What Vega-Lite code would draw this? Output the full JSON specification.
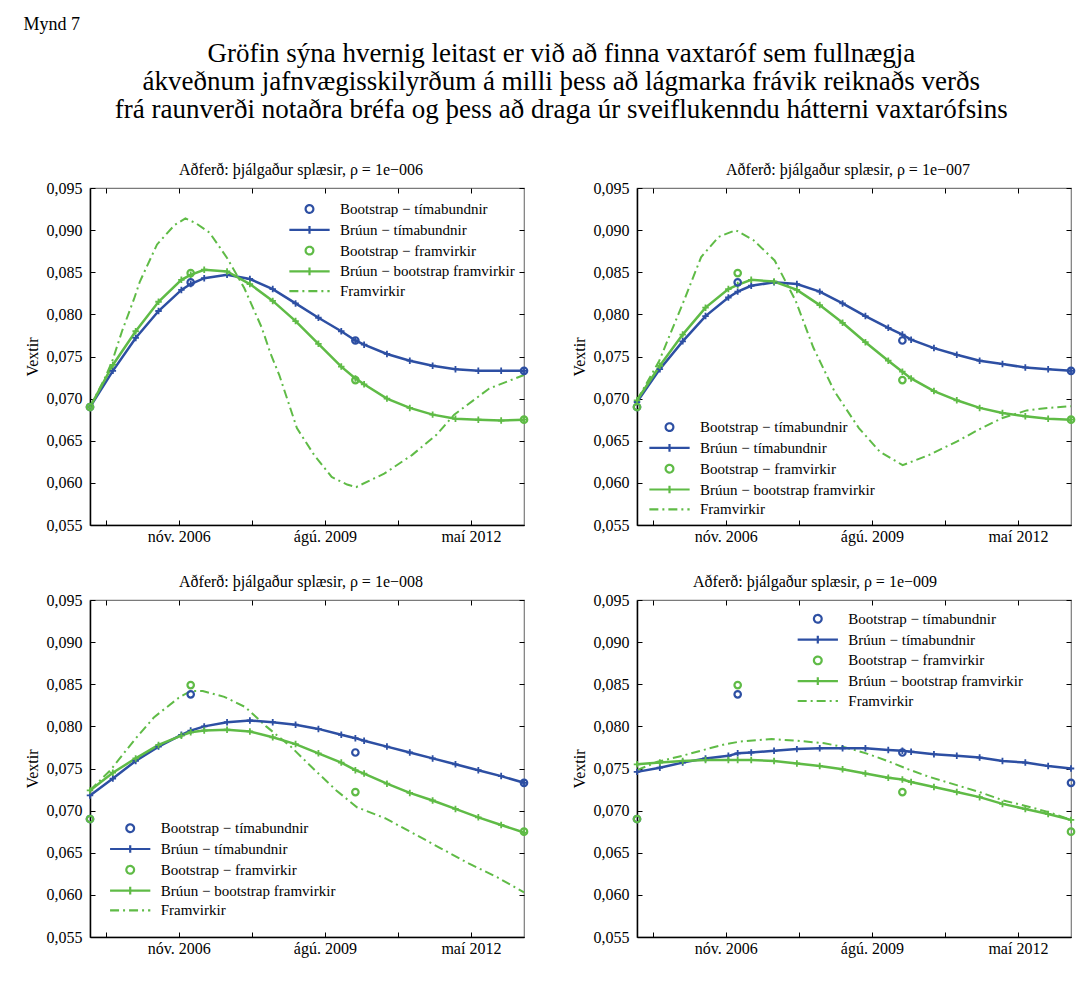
{
"$schema": "https://vega.github.io/schema/vega-lite/v6.json",
"background": "white",
"padding": {"left": 23, "top": 15, "right": 5, "bottom": 5},
"title": {"text": "Mynd 7", "anchor": "start", "fontSize": 18, "offset": 6, "frame": "bounds"},
"data": {"values": [
{"p":0,"s":"Bootstrap − tímabundnir","d":"2005-03-01","v":0.0690},
{"p":0,"s":"Bootstrap − tímabundnir","d":"2007-01-22","v":0.0838},
{"p":0,"s":"Bootstrap − tímabundnir","d":"2010-02-27","v":0.0769},
{"p":0,"s":"Bootstrap − tímabundnir","d":"2013-05-01","v":0.0733},
{"p":0,"s":"Bootstrap − framvirkir","d":"2005-03-01","v":0.0690},
{"p":0,"s":"Bootstrap − framvirkir","d":"2007-01-22","v":0.0849},
{"p":0,"s":"Bootstrap − framvirkir","d":"2010-02-27","v":0.0722},
{"p":0,"s":"Bootstrap − framvirkir","d":"2013-05-01","v":0.0675},
{"p":1,"s":"Brúun − tímabundnir","d":"2005-03-01","v":0.0690},
{"p":1,"s":"Brúun − tímabundnir","d":"2005-08-05","v":0.0733},
{"p":1,"s":"Brúun − tímabundnir","d":"2006-01-09","v":0.0772},
{"p":1,"s":"Brúun − tímabundnir","d":"2006-06-15","v":0.0804},
{"p":1,"s":"Brúun − tímabundnir","d":"2006-11-19","v":0.0829},
{"p":1,"s":"Brúun − tímabundnir","d":"2007-01-22","v":0.0836},
{"p":1,"s":"Brúun − tímabundnir","d":"2007-04-25","v":0.0843},
{"p":1,"s":"Brúun − tímabundnir","d":"2007-09-29","v":0.0847},
{"p":1,"s":"Brúun − tímabundnir","d":"2008-03-04","v":0.0842},
{"p":1,"s":"Brúun − tímabundnir","d":"2008-08-08","v":0.0830},
{"p":1,"s":"Brúun − tímabundnir","d":"2009-01-12","v":0.0813},
{"p":1,"s":"Brúun − tímabundnir","d":"2009-06-18","v":0.0796},
{"p":1,"s":"Brúun − tímabundnir","d":"2009-11-22","v":0.0780},
{"p":1,"s":"Brúun − tímabundnir","d":"2010-02-27","v":0.0769},
{"p":1,"s":"Brúun − tímabundnir","d":"2010-04-28","v":0.0764},
{"p":1,"s":"Brúun − tímabundnir","d":"2010-10-02","v":0.0753},
{"p":1,"s":"Brúun − tímabundnir","d":"2011-03-08","v":0.0745},
{"p":1,"s":"Brúun − tímabundnir","d":"2011-08-12","v":0.0739},
{"p":1,"s":"Brúun − tímabundnir","d":"2012-01-16","v":0.0735},
{"p":1,"s":"Brúun − tímabundnir","d":"2012-06-21","v":0.0733},
{"p":1,"s":"Brúun − tímabundnir","d":"2012-11-25","v":0.0733},
{"p":1,"s":"Brúun − tímabundnir","d":"2013-05-01","v":0.0733},
{"p":1,"s":"Brúun − bootstrap framvirkir","d":"2005-03-01","v":0.0690},
{"p":1,"s":"Brúun − bootstrap framvirkir","d":"2005-08-05","v":0.0740},
{"p":1,"s":"Brúun − bootstrap framvirkir","d":"2006-01-09","v":0.0780},
{"p":1,"s":"Brúun − bootstrap framvirkir","d":"2006-06-15","v":0.0815},
{"p":1,"s":"Brúun − bootstrap framvirkir","d":"2006-11-19","v":0.0841},
{"p":1,"s":"Brúun − bootstrap framvirkir","d":"2007-01-22","v":0.0847},
{"p":1,"s":"Brúun − bootstrap framvirkir","d":"2007-04-25","v":0.0853},
{"p":1,"s":"Brúun − bootstrap framvirkir","d":"2007-09-29","v":0.0851},
{"p":1,"s":"Brúun − bootstrap framvirkir","d":"2008-03-04","v":0.0836},
{"p":1,"s":"Brúun − bootstrap framvirkir","d":"2008-08-08","v":0.0816},
{"p":1,"s":"Brúun − bootstrap framvirkir","d":"2009-01-12","v":0.0792},
{"p":1,"s":"Brúun − bootstrap framvirkir","d":"2009-06-18","v":0.0765},
{"p":1,"s":"Brúun − bootstrap framvirkir","d":"2009-11-22","v":0.0738},
{"p":1,"s":"Brúun − bootstrap framvirkir","d":"2010-02-27","v":0.0724},
{"p":1,"s":"Brúun − bootstrap framvirkir","d":"2010-04-28","v":0.0717},
{"p":1,"s":"Brúun − bootstrap framvirkir","d":"2010-10-02","v":0.0700},
{"p":1,"s":"Brúun − bootstrap framvirkir","d":"2011-03-08","v":0.0689},
{"p":1,"s":"Brúun − bootstrap framvirkir","d":"2011-08-12","v":0.0681},
{"p":1,"s":"Brúun − bootstrap framvirkir","d":"2012-01-16","v":0.0676},
{"p":1,"s":"Brúun − bootstrap framvirkir","d":"2012-06-21","v":0.0675},
{"p":1,"s":"Brúun − bootstrap framvirkir","d":"2012-11-25","v":0.0674},
{"p":1,"s":"Brúun − bootstrap framvirkir","d":"2013-05-01","v":0.0675},
{"p":1,"s":"Framvirkir","d":"2005-03-01","v":0.0690},
{"p":1,"s":"Framvirkir","d":"2005-06-10","v":0.0724},
{"p":1,"s":"Framvirkir","d":"2005-08-02","v":0.0745},
{"p":1,"s":"Framvirkir","d":"2005-10-07","v":0.0780},
{"p":1,"s":"Framvirkir","d":"2005-12-28","v":0.0818},
{"p":1,"s":"Framvirkir","d":"2006-02-07","v":0.0839},
{"p":1,"s":"Framvirkir","d":"2006-06-05","v":0.0883},
{"p":1,"s":"Framvirkir","d":"2006-10-03","v":0.0906},
{"p":1,"s":"Framvirkir","d":"2006-12-17","v":0.0914},
{"p":1,"s":"Framvirkir","d":"2007-03-01","v":0.0908},
{"p":1,"s":"Framvirkir","d":"2007-06-01","v":0.0897},
{"p":1,"s":"Framvirkir","d":"2007-09-29","v":0.0867},
{"p":1,"s":"Framvirkir","d":"2008-01-26","v":0.0831},
{"p":1,"s":"Framvirkir","d":"2008-05-25","v":0.0784},
{"p":1,"s":"Framvirkir","d":"2008-07-25","v":0.0753},
{"p":1,"s":"Framvirkir","d":"2008-09-22","v":0.0728},
{"p":1,"s":"Framvirkir","d":"2009-01-21","v":0.0665},
{"p":1,"s":"Framvirkir","d":"2009-05-20","v":0.0633},
{"p":1,"s":"Framvirkir","d":"2009-09-17","v":0.0607},
{"p":1,"s":"Framvirkir","d":"2010-01-01","v":0.0598},
{"p":1,"s":"Framvirkir","d":"2010-03-04","v":0.0595},
{"p":1,"s":"Framvirkir","d":"2010-09-13","v":0.0611},
{"p":1,"s":"Framvirkir","d":"2011-03-23","v":0.0633},
{"p":1,"s":"Framvirkir","d":"2011-09-07","v":0.0657},
{"p":1,"s":"Framvirkir","d":"2012-01-07","v":0.0681},
{"p":1,"s":"Framvirkir","d":"2012-09-04","v":0.0712},
{"p":1,"s":"Framvirkir","d":"2013-05-01","v":0.0728},
{"p":2,"s":"Brúun − tímabundnir","d":"2005-03-01","v":0.0696},
{"p":2,"s":"Brúun − tímabundnir","d":"2005-08-05","v":0.0735},
{"p":2,"s":"Brúun − tímabundnir","d":"2006-01-09","v":0.0768},
{"p":2,"s":"Brúun − tímabundnir","d":"2006-06-15","v":0.0798},
{"p":2,"s":"Brúun − tímabundnir","d":"2006-11-19","v":0.0820},
{"p":2,"s":"Brúun − tímabundnir","d":"2007-01-22","v":0.0827},
{"p":2,"s":"Brúun − tímabundnir","d":"2007-04-25","v":0.0834},
{"p":2,"s":"Brúun − tímabundnir","d":"2007-09-29","v":0.0838},
{"p":2,"s":"Brúun − tímabundnir","d":"2008-03-04","v":0.0836},
{"p":2,"s":"Brúun − tímabundnir","d":"2008-08-08","v":0.0827},
{"p":2,"s":"Brúun − tímabundnir","d":"2009-01-12","v":0.0813},
{"p":2,"s":"Brúun − tímabundnir","d":"2009-06-18","v":0.0798},
{"p":2,"s":"Brúun − tímabundnir","d":"2009-11-22","v":0.0784},
{"p":2,"s":"Brúun − tímabundnir","d":"2010-02-27","v":0.0776},
{"p":2,"s":"Brúun − tímabundnir","d":"2010-04-28","v":0.0770},
{"p":2,"s":"Brúun − tímabundnir","d":"2010-10-02","v":0.0760},
{"p":2,"s":"Brúun − tímabundnir","d":"2011-03-08","v":0.0752},
{"p":2,"s":"Brúun − tímabundnir","d":"2011-08-12","v":0.0745},
{"p":2,"s":"Brúun − tímabundnir","d":"2012-01-16","v":0.0741},
{"p":2,"s":"Brúun − tímabundnir","d":"2012-06-21","v":0.0737},
{"p":2,"s":"Brúun − tímabundnir","d":"2012-11-25","v":0.0735},
{"p":2,"s":"Brúun − tímabundnir","d":"2013-05-01","v":0.0733},
{"p":2,"s":"Brúun − bootstrap framvirkir","d":"2005-03-01","v":0.0698},
{"p":2,"s":"Brúun − bootstrap framvirkir","d":"2005-08-05","v":0.0739},
{"p":2,"s":"Brúun − bootstrap framvirkir","d":"2006-01-09","v":0.0776},
{"p":2,"s":"Brúun − bootstrap framvirkir","d":"2006-06-15","v":0.0808},
{"p":2,"s":"Brúun − bootstrap framvirkir","d":"2006-11-19","v":0.0830},
{"p":2,"s":"Brúun − bootstrap framvirkir","d":"2007-01-22","v":0.0835},
{"p":2,"s":"Brúun − bootstrap framvirkir","d":"2007-04-25","v":0.0841},
{"p":2,"s":"Brúun − bootstrap framvirkir","d":"2007-09-29","v":0.0839},
{"p":2,"s":"Brúun − bootstrap framvirkir","d":"2008-03-04","v":0.0829},
{"p":2,"s":"Brúun − bootstrap framvirkir","d":"2008-08-08","v":0.0811},
{"p":2,"s":"Brúun − bootstrap framvirkir","d":"2009-01-12","v":0.0790},
{"p":2,"s":"Brúun − bootstrap framvirkir","d":"2009-06-18","v":0.0767},
{"p":2,"s":"Brúun − bootstrap framvirkir","d":"2009-11-22","v":0.0745},
{"p":2,"s":"Brúun − bootstrap framvirkir","d":"2010-02-27","v":0.0732},
{"p":2,"s":"Brúun − bootstrap framvirkir","d":"2010-04-28","v":0.0724},
{"p":2,"s":"Brúun − bootstrap framvirkir","d":"2010-10-02","v":0.0709},
{"p":2,"s":"Brúun − bootstrap framvirkir","d":"2011-03-08","v":0.0698},
{"p":2,"s":"Brúun − bootstrap framvirkir","d":"2011-08-12","v":0.0689},
{"p":2,"s":"Brúun − bootstrap framvirkir","d":"2012-01-16","v":0.0683},
{"p":2,"s":"Brúun − bootstrap framvirkir","d":"2012-06-21","v":0.0679},
{"p":2,"s":"Brúun − bootstrap framvirkir","d":"2012-11-25","v":0.0676},
{"p":2,"s":"Brúun − bootstrap framvirkir","d":"2013-05-01","v":0.0675},
{"p":2,"s":"Framvirkir","d":"2005-03-01","v":0.0698},
{"p":2,"s":"Framvirkir","d":"2005-08-01","v":0.0745},
{"p":2,"s":"Framvirkir","d":"2006-01-17","v":0.0816},
{"p":2,"s":"Framvirkir","d":"2006-05-16","v":0.0868},
{"p":2,"s":"Framvirkir","d":"2006-09-13","v":0.0892},
{"p":2,"s":"Framvirkir","d":"2007-01-08","v":0.0900},
{"p":2,"s":"Framvirkir","d":"2007-05-11","v":0.0888},
{"p":2,"s":"Framvirkir","d":"2007-10-03","v":0.0864},
{"p":2,"s":"Framvirkir","d":"2008-02-25","v":0.0816},
{"p":2,"s":"Framvirkir","d":"2008-06-24","v":0.0761},
{"p":2,"s":"Framvirkir","d":"2008-11-16","v":0.0709},
{"p":2,"s":"Framvirkir","d":"2009-05-04","v":0.0665},
{"p":2,"s":"Framvirkir","d":"2009-09-25","v":0.0637},
{"p":2,"s":"Framvirkir","d":"2010-01-01","v":0.0627},
{"p":2,"s":"Framvirkir","d":"2010-03-01","v":0.0621},
{"p":2,"s":"Framvirkir","d":"2010-08-28","v":0.0633},
{"p":2,"s":"Framvirkir","d":"2011-03-07","v":0.0649},
{"p":2,"s":"Framvirkir","d":"2011-08-25","v":0.0665},
{"p":2,"s":"Framvirkir","d":"2012-01-16","v":0.0677},
{"p":2,"s":"Framvirkir","d":"2012-07-01","v":0.0686},
{"p":2,"s":"Framvirkir","d":"2012-11-25","v":0.0689},
{"p":2,"s":"Framvirkir","d":"2013-05-01","v":0.0691},
{"p":3,"s":"Brúun − tímabundnir","d":"2005-03-01","v":0.0718},
{"p":3,"s":"Brúun − tímabundnir","d":"2005-08-05","v":0.0738},
{"p":3,"s":"Brúun − tímabundnir","d":"2006-01-09","v":0.0759},
{"p":3,"s":"Brúun − tímabundnir","d":"2006-06-15","v":0.0776},
{"p":3,"s":"Brúun − tímabundnir","d":"2006-11-19","v":0.0790},
{"p":3,"s":"Brúun − tímabundnir","d":"2007-01-22","v":0.0795},
{"p":3,"s":"Brúun − tímabundnir","d":"2007-04-25","v":0.0800},
{"p":3,"s":"Brúun − tímabundnir","d":"2007-09-29","v":0.0805},
{"p":3,"s":"Brúun − tímabundnir","d":"2008-03-04","v":0.0807},
{"p":3,"s":"Brúun − tímabundnir","d":"2008-08-08","v":0.0805},
{"p":3,"s":"Brúun − tímabundnir","d":"2009-01-12","v":0.0802},
{"p":3,"s":"Brúun − tímabundnir","d":"2009-06-18","v":0.0797},
{"p":3,"s":"Brúun − tímabundnir","d":"2009-11-22","v":0.0790},
{"p":3,"s":"Brúun − tímabundnir","d":"2010-02-27","v":0.0786},
{"p":3,"s":"Brúun − tímabundnir","d":"2010-04-28","v":0.0783},
{"p":3,"s":"Brúun − tímabundnir","d":"2010-10-02","v":0.0776},
{"p":3,"s":"Brúun − tímabundnir","d":"2011-03-08","v":0.0769},
{"p":3,"s":"Brúun − tímabundnir","d":"2011-08-12","v":0.0762},
{"p":3,"s":"Brúun − tímabundnir","d":"2012-01-16","v":0.0755},
{"p":3,"s":"Brúun − tímabundnir","d":"2012-06-21","v":0.0748},
{"p":3,"s":"Brúun − tímabundnir","d":"2012-11-25","v":0.0741},
{"p":3,"s":"Brúun − tímabundnir","d":"2013-05-01","v":0.0733},
{"p":3,"s":"Brúun − bootstrap framvirkir","d":"2005-03-01","v":0.0724},
{"p":3,"s":"Brúun − bootstrap framvirkir","d":"2005-08-05","v":0.0745},
{"p":3,"s":"Brúun − bootstrap framvirkir","d":"2006-01-09","v":0.0762},
{"p":3,"s":"Brúun − bootstrap framvirkir","d":"2006-06-15","v":0.0778},
{"p":3,"s":"Brúun − bootstrap framvirkir","d":"2006-11-19","v":0.0789},
{"p":3,"s":"Brúun − bootstrap framvirkir","d":"2007-01-22","v":0.0793},
{"p":3,"s":"Brúun − bootstrap framvirkir","d":"2007-04-25","v":0.0795},
{"p":3,"s":"Brúun − bootstrap framvirkir","d":"2007-09-29","v":0.0796},
{"p":3,"s":"Brúun − bootstrap framvirkir","d":"2008-03-04","v":0.0794},
{"p":3,"s":"Brúun − bootstrap framvirkir","d":"2008-08-08","v":0.0787},
{"p":3,"s":"Brúun − bootstrap framvirkir","d":"2009-01-12","v":0.0779},
{"p":3,"s":"Brúun − bootstrap framvirkir","d":"2009-06-18","v":0.0768},
{"p":3,"s":"Brúun − bootstrap framvirkir","d":"2009-11-22","v":0.0757},
{"p":3,"s":"Brúun − bootstrap framvirkir","d":"2010-02-27","v":0.0748},
{"p":3,"s":"Brúun − bootstrap framvirkir","d":"2010-04-28","v":0.0744},
{"p":3,"s":"Brúun − bootstrap framvirkir","d":"2010-10-02","v":0.0732},
{"p":3,"s":"Brúun − bootstrap framvirkir","d":"2011-03-08","v":0.0721},
{"p":3,"s":"Brúun − bootstrap framvirkir","d":"2011-08-12","v":0.0712},
{"p":3,"s":"Brúun − bootstrap framvirkir","d":"2012-01-16","v":0.0702},
{"p":3,"s":"Brúun − bootstrap framvirkir","d":"2012-06-21","v":0.0692},
{"p":3,"s":"Brúun − bootstrap framvirkir","d":"2012-11-25","v":0.0683},
{"p":3,"s":"Brúun − bootstrap framvirkir","d":"2013-05-01","v":0.0674},
{"p":3,"s":"Framvirkir","d":"2005-03-01","v":0.0724},
{"p":3,"s":"Framvirkir","d":"2005-07-19","v":0.0748},
{"p":3,"s":"Framvirkir","d":"2006-01-01","v":0.0784},
{"p":3,"s":"Framvirkir","d":"2006-05-16","v":0.0811},
{"p":3,"s":"Framvirkir","d":"2006-11-01","v":0.0834},
{"p":3,"s":"Framvirkir","d":"2007-01-22","v":0.0842},
{"p":3,"s":"Framvirkir","d":"2007-04-15","v":0.0842},
{"p":3,"s":"Framvirkir","d":"2007-09-10","v":0.0835},
{"p":3,"s":"Framvirkir","d":"2008-02-01","v":0.0823},
{"p":3,"s":"Framvirkir","d":"2008-06-24","v":0.0800},
{"p":3,"s":"Framvirkir","d":"2008-12-10","v":0.0776},
{"p":3,"s":"Framvirkir","d":"2009-05-25","v":0.0748},
{"p":3,"s":"Framvirkir","d":"2009-10-19","v":0.0724},
{"p":3,"s":"Framvirkir","d":"2010-03-10","v":0.0704},
{"p":3,"s":"Framvirkir","d":"2010-09-19","v":0.0691},
{"p":3,"s":"Framvirkir","d":"2011-04-01","v":0.0673},
{"p":3,"s":"Framvirkir","d":"2011-10-10","v":0.0655},
{"p":3,"s":"Framvirkir","d":"2012-04-19","v":0.0637},
{"p":3,"s":"Framvirkir","d":"2012-10-28","v":0.0621},
{"p":3,"s":"Framvirkir","d":"2013-05-01","v":0.0603},
{"p":4,"s":"Brúun − tímabundnir","d":"2005-03-01","v":0.0746},
{"p":4,"s":"Brúun − tímabundnir","d":"2005-08-05","v":0.0751},
{"p":4,"s":"Brúun − tímabundnir","d":"2006-01-09","v":0.0757},
{"p":4,"s":"Brúun − tímabundnir","d":"2006-06-15","v":0.0762},
{"p":4,"s":"Brúun − tímabundnir","d":"2006-11-19","v":0.0765},
{"p":4,"s":"Brúun − tímabundnir","d":"2007-01-22","v":0.0768},
{"p":4,"s":"Brúun − tímabundnir","d":"2007-04-25","v":0.0769},
{"p":4,"s":"Brúun − tímabundnir","d":"2007-09-29","v":0.0771},
{"p":4,"s":"Brúun − tímabundnir","d":"2008-03-04","v":0.0773},
{"p":4,"s":"Brúun − tímabundnir","d":"2008-08-08","v":0.0774},
{"p":4,"s":"Brúun − tímabundnir","d":"2009-01-12","v":0.0774},
{"p":4,"s":"Brúun − tímabundnir","d":"2009-06-18","v":0.0774},
{"p":4,"s":"Brúun − tímabundnir","d":"2009-11-22","v":0.0772},
{"p":4,"s":"Brúun − tímabundnir","d":"2010-02-27","v":0.0771},
{"p":4,"s":"Brúun − tímabundnir","d":"2010-04-28","v":0.0770},
{"p":4,"s":"Brúun − tímabundnir","d":"2010-10-02","v":0.0767},
{"p":4,"s":"Brúun − tímabundnir","d":"2011-03-08","v":0.0765},
{"p":4,"s":"Brúun − tímabundnir","d":"2011-08-12","v":0.0763},
{"p":4,"s":"Brúun − tímabundnir","d":"2012-01-16","v":0.0759},
{"p":4,"s":"Brúun − tímabundnir","d":"2012-06-21","v":0.0757},
{"p":4,"s":"Brúun − tímabundnir","d":"2012-11-25","v":0.0753},
{"p":4,"s":"Brúun − tímabundnir","d":"2013-05-01","v":0.0750},
{"p":4,"s":"Brúun − bootstrap framvirkir","d":"2005-03-01","v":0.0755},
{"p":4,"s":"Brúun − bootstrap framvirkir","d":"2005-08-05","v":0.0757},
{"p":4,"s":"Brúun − bootstrap framvirkir","d":"2006-01-09","v":0.0759},
{"p":4,"s":"Brúun − bootstrap framvirkir","d":"2006-06-15","v":0.0760},
{"p":4,"s":"Brúun − bootstrap framvirkir","d":"2006-11-19","v":0.0760},
{"p":4,"s":"Brúun − bootstrap framvirkir","d":"2007-01-22","v":0.0760},
{"p":4,"s":"Brúun − bootstrap framvirkir","d":"2007-04-25","v":0.0760},
{"p":4,"s":"Brúun − bootstrap framvirkir","d":"2007-09-29","v":0.0759},
{"p":4,"s":"Brúun − bootstrap framvirkir","d":"2008-03-04","v":0.0756},
{"p":4,"s":"Brúun − bootstrap framvirkir","d":"2008-08-08","v":0.0753},
{"p":4,"s":"Brúun − bootstrap framvirkir","d":"2009-01-12","v":0.0749},
{"p":4,"s":"Brúun − bootstrap framvirkir","d":"2009-06-18","v":0.0744},
{"p":4,"s":"Brúun − bootstrap framvirkir","d":"2009-11-22","v":0.0739},
{"p":4,"s":"Brúun − bootstrap framvirkir","d":"2010-02-27","v":0.0737},
{"p":4,"s":"Brúun − bootstrap framvirkir","d":"2010-04-28","v":0.0734},
{"p":4,"s":"Brúun − bootstrap framvirkir","d":"2010-10-02","v":0.0728},
{"p":4,"s":"Brúun − bootstrap framvirkir","d":"2011-03-08","v":0.0722},
{"p":4,"s":"Brúun − bootstrap framvirkir","d":"2011-08-12","v":0.0716},
{"p":4,"s":"Brúun − bootstrap framvirkir","d":"2012-01-16","v":0.0708},
{"p":4,"s":"Brúun − bootstrap framvirkir","d":"2012-06-21","v":0.0702},
{"p":4,"s":"Brúun − bootstrap framvirkir","d":"2012-11-25","v":0.0696},
{"p":4,"s":"Brúun − bootstrap framvirkir","d":"2013-05-01","v":0.0689},
{"p":4,"s":"Framvirkir","d":"2005-03-01","v":0.0748},
{"p":4,"s":"Framvirkir","d":"2005-07-19","v":0.0758},
{"p":4,"s":"Framvirkir","d":"2006-01-04","v":0.0765},
{"p":4,"s":"Framvirkir","d":"2006-06-01","v":0.0772},
{"p":4,"s":"Framvirkir","d":"2006-11-01","v":0.0779},
{"p":4,"s":"Framvirkir","d":"2007-02-08","v":0.0782},
{"p":4,"s":"Framvirkir","d":"2007-09-13","v":0.0785},
{"p":4,"s":"Framvirkir","d":"2008-02-28","v":0.0783},
{"p":4,"s":"Framvirkir","d":"2008-09-09","v":0.0780},
{"p":4,"s":"Framvirkir","d":"2009-02-01","v":0.0775},
{"p":4,"s":"Framvirkir","d":"2009-06-23","v":0.0768},
{"p":4,"s":"Framvirkir","d":"2009-11-16","v":0.0759},
{"p":4,"s":"Framvirkir","d":"2010-04-10","v":0.0749},
{"p":4,"s":"Framvirkir","d":"2010-09-01","v":0.0740},
{"p":4,"s":"Framvirkir","d":"2011-03-13","v":0.0730},
{"p":4,"s":"Framvirkir","d":"2011-08-29","v":0.0721},
{"p":4,"s":"Framvirkir","d":"2012-01-22","v":0.0712},
{"p":4,"s":"Framvirkir","d":"2012-07-07","v":0.0705},
{"p":4,"s":"Framvirkir","d":"2012-12-01","v":0.0698},
{"p":4,"s":"Framvirkir","d":"2013-05-01","v":0.0689}
]},
"vconcat": [{
"title": {"text": ["Gröfin sýna hvernig leitast er við að finna vaxtaróf sem fullnægja", "ákveðnum jafnvægisskilyrðum á milli þess að lágmarka frávik reiknaðs verðs", "frá raunverði notaðra bréfa og þess að draga úr sveiflukenndu hátterni vaxtarófsins"], "anchor": "middle", "fontSize": 27, "lineHeight": 28, "offset": 37.5, "dx": 10},
"columns": 2,
"spacing": {"row": 28, "column": 37},
"resolve": {"scale": {"color": "independent", "shape": "independent", "strokeDash": "independent"}, "legend": {"color": "independent", "shape": "independent", "strokeDash": "independent"}},
"concat": [
{
"width": 434, "height": 337,
"title": {"text": "Aðferð: þjálgaður splæsir, ρ = 1e−006", "frame": "group", "dx": -6, "fontSize": 16, "offset": 2},
"transform": [{"filter": "datum.p == 0 || datum.p == 1"}],
"resolve": {"axis": {"x": "independent", "y": "independent"}},
"encoding": {
  "x": {"field": "d", "type": "temporal", "scale": {"type": "utc", "nice": false, "domain": [1109635200000, 1367366400000]}, "axis": null},
  "y": {"field": "v", "type": "quantitative", "scale": {"domain": [0.055, 0.095], "nice": false, "zero": false}, "axis": null},
  "color": {"field": "s", "type": "nominal", "scale": {"domain": ["Bootstrap − tímabundnir", "Brúun − tímabundnir", "Bootstrap − framvirkir", "Brúun − bootstrap framvirkir", "Framvirkir"], "range": ["#2D4FA3", "#2D4FA3", "#5FBB46", "#5FBB46", "#5FBB46"]},
   "legend": {"orient": "none", "legendX": 197, "legendY": 13.5, "direction": "vertical", "title": null}}
},
"layer": [
{"transform": [{"filter": "datum.s == 'Framvirkir'"}], "mark": {"type": "line", "strokeWidth": 2},
 "encoding": {"strokeDash": {"field": "s", "type": "nominal", "scale": {"domain": ["Bootstrap − tímabundnir", "Brúun − tímabundnir", "Bootstrap − framvirkir", "Brúun − bootstrap framvirkir", "Framvirkir"], "range": [[1, 0], [1, 0], [1, 0], [1, 0], [9, 4, 2, 4]]}, "legend": {"orient": "none", "legendX": 197, "legendY": 13.5, "direction": "vertical", "title": null}}}},
{"transform": [{"filter": "datum.p != 0 && datum.s != 'Framvirkir'"}], "mark": {"type": "line", "strokeWidth": 2.5},
 "encoding": {
  "x": {"field": "d", "type": "temporal", "scale": {"type": "utc", "nice": false, "domain": [1109635200000, 1367366400000]},
   "axis": {"orient": "bottom", "title": null, "values": [1118966400000, 1162339200000, 1205712000000, 1249084800000, 1292457600000, 1335830400000],
    "labelExpr": "utcmonth(datum.value) == 10 ? 'nóv. ' + utcyear(datum.value) : utcmonth(datum.value) == 7 ? 'ágú. ' + utcyear(datum.value) : utcmonth(datum.value) == 4 ? 'maí ' + utcyear(datum.value) : ''",
    "tickSize": -5, "labelPadding": 8, "labelOverlap": false, "labelFlush": false}},
  "y": {"field": "v", "type": "quantitative", "scale": {"domain": [0.055, 0.095], "nice": false, "zero": false},
   "axis": {"orient": "left", "title": "Vextir", "values": [0.055, 0.06, 0.065, 0.07, 0.075, 0.08, 0.085, 0.09, 0.095], "labelExpr": "replace(format(datum.value, '.3f'), '.', ',')", "tickSize": -5, "labelPadding": 13, "titlePadding": 6, "labelOverlap": false}}}},
{"transform": [{"filter": "datum.p != 0 && datum.s != 'Framvirkir'"}], "mark": {"type": "point", "shape": "M-1,0H1M0,-1V1", "filled": false, "size": 42, "strokeWidth": 1.8, "opacity": 1}},
{"transform": [{"filter": "datum.p == 0"}], "mark": {"type": "point", "filled": false, "size": 42, "strokeWidth": 2.2, "opacity": 1},
 "encoding": {
  "x": {"field": "d", "type": "temporal", "scale": {"type": "utc", "nice": false, "domain": [1109635200000, 1367366400000]},
   "axis": {"orient": "top", "title": null, "labels": false, "domain": false, "tickSize": -5, "minExtent": 0, "values": [1118966400000, 1162339200000, 1205712000000, 1249084800000, 1292457600000, 1335830400000]}},
  "y": {"field": "v", "type": "quantitative", "scale": {"domain": [0.055, 0.095], "nice": false, "zero": false},
   "axis": {"orient": "right", "title": null, "labels": false, "domain": false, "tickSize": -5, "minExtent": 0, "values": [0.055, 0.06, 0.065, 0.07, 0.075, 0.08, 0.085, 0.09, 0.095]}},
  "shape": {"field": "s", "type": "nominal", "scale": {"domain": ["Bootstrap − tímabundnir", "Brúun − tímabundnir", "Bootstrap − framvirkir", "Brúun − bootstrap framvirkir", "Framvirkir"], "range": ["circle", "M-5.2,0H5.2M0,-1V1", "circle", "M-5.2,0H5.2M0,-1V1", "M-5.2,0H5.2"]}, "legend": {"orient": "none", "legendX": 197, "legendY": 13.5, "direction": "vertical", "title": null}}}}
]
},
{
"width": 434, "height": 337,
"title": {"text": "Aðferð: þjálgaður splæsir, ρ = 1e−007", "frame": "group", "dx": -6, "fontSize": 16, "offset": 2},
"transform": [{"filter": "datum.p == 0 || datum.p == 2"}],
"resolve": {"axis": {"x": "independent", "y": "independent"}},
"encoding": {
  "x": {"field": "d", "type": "temporal", "scale": {"type": "utc", "nice": false, "domain": [1109635200000, 1367366400000]}, "axis": null},
  "y": {"field": "v", "type": "quantitative", "scale": {"domain": [0.055, 0.095], "nice": false, "zero": false}, "axis": null},
  "color": {"field": "s", "type": "nominal", "scale": {"domain": ["Bootstrap − tímabundnir", "Brúun − tímabundnir", "Bootstrap − framvirkir", "Brúun − bootstrap framvirkir", "Framvirkir"], "range": ["#2D4FA3", "#2D4FA3", "#5FBB46", "#5FBB46", "#5FBB46"]},
   "legend": {"orient": "none", "legendX": 10, "legendY": 231.6, "direction": "vertical", "title": null}}
},
"layer": [
{"transform": [{"filter": "datum.s == 'Framvirkir'"}], "mark": {"type": "line", "strokeWidth": 2},
 "encoding": {"strokeDash": {"field": "s", "type": "nominal", "scale": {"domain": ["Bootstrap − tímabundnir", "Brúun − tímabundnir", "Bootstrap − framvirkir", "Brúun − bootstrap framvirkir", "Framvirkir"], "range": [[1, 0], [1, 0], [1, 0], [1, 0], [9, 4, 2, 4]]}, "legend": {"orient": "none", "legendX": 10, "legendY": 231.6, "direction": "vertical", "title": null}}}},
{"transform": [{"filter": "datum.p != 0 && datum.s != 'Framvirkir'"}], "mark": {"type": "line", "strokeWidth": 2.5},
 "encoding": {
  "x": {"field": "d", "type": "temporal", "scale": {"type": "utc", "nice": false, "domain": [1109635200000, 1367366400000]},
   "axis": {"orient": "bottom", "title": null, "values": [1118966400000, 1162339200000, 1205712000000, 1249084800000, 1292457600000, 1335830400000],
    "labelExpr": "utcmonth(datum.value) == 10 ? 'nóv. ' + utcyear(datum.value) : utcmonth(datum.value) == 7 ? 'ágú. ' + utcyear(datum.value) : utcmonth(datum.value) == 4 ? 'maí ' + utcyear(datum.value) : ''",
    "tickSize": -5, "labelPadding": 8, "labelOverlap": false, "labelFlush": false}},
  "y": {"field": "v", "type": "quantitative", "scale": {"domain": [0.055, 0.095], "nice": false, "zero": false},
   "axis": {"orient": "left", "title": "Vextir", "values": [0.055, 0.06, 0.065, 0.07, 0.075, 0.08, 0.085, 0.09, 0.095], "labelExpr": "replace(format(datum.value, '.3f'), '.', ',')", "tickSize": -5, "labelPadding": 13, "titlePadding": 6, "labelOverlap": false}}}},
{"transform": [{"filter": "datum.p != 0 && datum.s != 'Framvirkir'"}], "mark": {"type": "point", "shape": "M-1,0H1M0,-1V1", "filled": false, "size": 42, "strokeWidth": 1.8, "opacity": 1}},
{"transform": [{"filter": "datum.p == 0"}], "mark": {"type": "point", "filled": false, "size": 42, "strokeWidth": 2.2, "opacity": 1},
 "encoding": {
  "x": {"field": "d", "type": "temporal", "scale": {"type": "utc", "nice": false, "domain": [1109635200000, 1367366400000]},
   "axis": {"orient": "top", "title": null, "labels": false, "domain": false, "tickSize": -5, "minExtent": 0, "values": [1118966400000, 1162339200000, 1205712000000, 1249084800000, 1292457600000, 1335830400000]}},
  "y": {"field": "v", "type": "quantitative", "scale": {"domain": [0.055, 0.095], "nice": false, "zero": false},
   "axis": {"orient": "right", "title": null, "labels": false, "domain": false, "tickSize": -5, "minExtent": 0, "values": [0.055, 0.06, 0.065, 0.07, 0.075, 0.08, 0.085, 0.09, 0.095]}},
  "shape": {"field": "s", "type": "nominal", "scale": {"domain": ["Bootstrap − tímabundnir", "Brúun − tímabundnir", "Bootstrap − framvirkir", "Brúun − bootstrap framvirkir", "Framvirkir"], "range": ["circle", "M-5.2,0H5.2M0,-1V1", "circle", "M-5.2,0H5.2M0,-1V1", "M-5.2,0H5.2"]}, "legend": {"orient": "none", "legendX": 10, "legendY": 231.6, "direction": "vertical", "title": null}}}}
]
},
{
"width": 434, "height": 337,
"title": {"text": "Aðferð: þjálgaður splæsir,  ρ = 1e−008", "frame": "group", "dx": -6, "fontSize": 16, "offset": 2},
"transform": [{"filter": "datum.p == 0 || datum.p == 3"}],
"resolve": {"axis": {"x": "independent", "y": "independent"}},
"encoding": {
  "x": {"field": "d", "type": "temporal", "scale": {"type": "utc", "nice": false, "domain": [1109635200000, 1367366400000]}, "axis": null},
  "y": {"field": "v", "type": "quantitative", "scale": {"domain": [0.055, 0.095], "nice": false, "zero": false}, "axis": null},
  "color": {"field": "s", "type": "nominal", "scale": {"domain": ["Bootstrap − tímabundnir", "Brúun − tímabundnir", "Bootstrap − framvirkir", "Brúun − bootstrap framvirkir", "Framvirkir"], "range": ["#2D4FA3", "#2D4FA3", "#5FBB46", "#5FBB46", "#5FBB46"]},
   "legend": {"orient": "none", "legendX": 17.7, "legendY": 220.7, "direction": "vertical", "title": null}}
},
"layer": [
{"transform": [{"filter": "datum.s == 'Framvirkir'"}], "mark": {"type": "line", "strokeWidth": 2},
 "encoding": {"strokeDash": {"field": "s", "type": "nominal", "scale": {"domain": ["Bootstrap − tímabundnir", "Brúun − tímabundnir", "Bootstrap − framvirkir", "Brúun − bootstrap framvirkir", "Framvirkir"], "range": [[1, 0], [1, 0], [1, 0], [1, 0], [9, 4, 2, 4]]}, "legend": {"orient": "none", "legendX": 17.7, "legendY": 220.7, "direction": "vertical", "title": null}}}},
{"transform": [{"filter": "datum.p != 0 && datum.s != 'Framvirkir'"}], "mark": {"type": "line", "strokeWidth": 2.5},
 "encoding": {
  "x": {"field": "d", "type": "temporal", "scale": {"type": "utc", "nice": false, "domain": [1109635200000, 1367366400000]},
   "axis": {"orient": "bottom", "title": null, "values": [1118966400000, 1162339200000, 1205712000000, 1249084800000, 1292457600000, 1335830400000],
    "labelExpr": "utcmonth(datum.value) == 10 ? 'nóv. ' + utcyear(datum.value) : utcmonth(datum.value) == 7 ? 'ágú. ' + utcyear(datum.value) : utcmonth(datum.value) == 4 ? 'maí ' + utcyear(datum.value) : ''",
    "tickSize": -5, "labelPadding": 8, "labelOverlap": false, "labelFlush": false}},
  "y": {"field": "v", "type": "quantitative", "scale": {"domain": [0.055, 0.095], "nice": false, "zero": false},
   "axis": {"orient": "left", "title": "Vextir", "values": [0.055, 0.06, 0.065, 0.07, 0.075, 0.08, 0.085, 0.09, 0.095], "labelExpr": "replace(format(datum.value, '.3f'), '.', ',')", "tickSize": -5, "labelPadding": 13, "titlePadding": 6, "labelOverlap": false}}}},
{"transform": [{"filter": "datum.p != 0 && datum.s != 'Framvirkir'"}], "mark": {"type": "point", "shape": "M-1,0H1M0,-1V1", "filled": false, "size": 42, "strokeWidth": 1.8, "opacity": 1}},
{"transform": [{"filter": "datum.p == 0"}], "mark": {"type": "point", "filled": false, "size": 42, "strokeWidth": 2.2, "opacity": 1},
 "encoding": {
  "x": {"field": "d", "type": "temporal", "scale": {"type": "utc", "nice": false, "domain": [1109635200000, 1367366400000]},
   "axis": {"orient": "top", "title": null, "labels": false, "domain": false, "tickSize": -5, "minExtent": 0, "values": [1118966400000, 1162339200000, 1205712000000, 1249084800000, 1292457600000, 1335830400000]}},
  "y": {"field": "v", "type": "quantitative", "scale": {"domain": [0.055, 0.095], "nice": false, "zero": false},
   "axis": {"orient": "right", "title": null, "labels": false, "domain": false, "tickSize": -5, "minExtent": 0, "values": [0.055, 0.06, 0.065, 0.07, 0.075, 0.08, 0.085, 0.09, 0.095]}},
  "shape": {"field": "s", "type": "nominal", "scale": {"domain": ["Bootstrap − tímabundnir", "Brúun − tímabundnir", "Bootstrap − framvirkir", "Brúun − bootstrap framvirkir", "Framvirkir"], "range": ["circle", "M-5.2,0H5.2M0,-1V1", "circle", "M-5.2,0H5.2M0,-1V1", "M-5.2,0H5.2"]}, "legend": {"orient": "none", "legendX": 17.7, "legendY": 220.7, "direction": "vertical", "title": null}}}}
]
},
{
"width": 434, "height": 337,
"title": {"text": "Aðferð: þjálgaður splæsir, ρ = 1e−009", "frame": "group", "dx": -39, "fontSize": 16, "offset": 2},
"transform": [{"filter": "datum.p == 0 || datum.p == 4"}],
"resolve": {"axis": {"x": "independent", "y": "independent"}},
"encoding": {
  "x": {"field": "d", "type": "temporal", "scale": {"type": "utc", "nice": false, "domain": [1109635200000, 1367366400000]}, "axis": null},
  "y": {"field": "v", "type": "quantitative", "scale": {"domain": [0.055, 0.095], "nice": false, "zero": false}, "axis": null},
  "color": {"field": "s", "type": "nominal", "scale": {"domain": ["Bootstrap − tímabundnir", "Brúun − tímabundnir", "Bootstrap − framvirkir", "Brúun − bootstrap framvirkir", "Framvirkir"], "range": ["#2D4FA3", "#2D4FA3", "#5FBB46", "#5FBB46", "#5FBB46"]},
   "legend": {"orient": "none", "legendX": 158.3, "legendY": 11.3, "direction": "vertical", "title": null}}
},
"layer": [
{"transform": [{"filter": "datum.s == 'Framvirkir'"}], "mark": {"type": "line", "strokeWidth": 2},
 "encoding": {"strokeDash": {"field": "s", "type": "nominal", "scale": {"domain": ["Bootstrap − tímabundnir", "Brúun − tímabundnir", "Bootstrap − framvirkir", "Brúun − bootstrap framvirkir", "Framvirkir"], "range": [[1, 0], [1, 0], [1, 0], [1, 0], [9, 4, 2, 4]]}, "legend": {"orient": "none", "legendX": 158.3, "legendY": 11.3, "direction": "vertical", "title": null}}}},
{"transform": [{"filter": "datum.p != 0 && datum.s != 'Framvirkir'"}], "mark": {"type": "line", "strokeWidth": 2.5},
 "encoding": {
  "x": {"field": "d", "type": "temporal", "scale": {"type": "utc", "nice": false, "domain": [1109635200000, 1367366400000]},
   "axis": {"orient": "bottom", "title": null, "values": [1118966400000, 1162339200000, 1205712000000, 1249084800000, 1292457600000, 1335830400000],
    "labelExpr": "utcmonth(datum.value) == 10 ? 'nóv. ' + utcyear(datum.value) : utcmonth(datum.value) == 7 ? 'ágú. ' + utcyear(datum.value) : utcmonth(datum.value) == 4 ? 'maí ' + utcyear(datum.value) : ''",
    "tickSize": -5, "labelPadding": 8, "labelOverlap": false, "labelFlush": false}},
  "y": {"field": "v", "type": "quantitative", "scale": {"domain": [0.055, 0.095], "nice": false, "zero": false},
   "axis": {"orient": "left", "title": "Vextir", "values": [0.055, 0.06, 0.065, 0.07, 0.075, 0.08, 0.085, 0.09, 0.095], "labelExpr": "replace(format(datum.value, '.3f'), '.', ',')", "tickSize": -5, "labelPadding": 13, "titlePadding": 6, "labelOverlap": false}}}},
{"transform": [{"filter": "datum.p != 0 && datum.s != 'Framvirkir'"}], "mark": {"type": "point", "shape": "M-1,0H1M0,-1V1", "filled": false, "size": 42, "strokeWidth": 1.8, "opacity": 1}},
{"transform": [{"filter": "datum.p == 0"}], "mark": {"type": "point", "filled": false, "size": 42, "strokeWidth": 2.2, "opacity": 1},
 "encoding": {
  "x": {"field": "d", "type": "temporal", "scale": {"type": "utc", "nice": false, "domain": [1109635200000, 1367366400000]},
   "axis": {"orient": "top", "title": null, "labels": false, "domain": false, "tickSize": -5, "minExtent": 0, "values": [1118966400000, 1162339200000, 1205712000000, 1249084800000, 1292457600000, 1335830400000]}},
  "y": {"field": "v", "type": "quantitative", "scale": {"domain": [0.055, 0.095], "nice": false, "zero": false},
   "axis": {"orient": "right", "title": null, "labels": false, "domain": false, "tickSize": -5, "minExtent": 0, "values": [0.055, 0.06, 0.065, 0.07, 0.075, 0.08, 0.085, 0.09, 0.095]}},
  "shape": {"field": "s", "type": "nominal", "scale": {"domain": ["Bootstrap − tímabundnir", "Brúun − tímabundnir", "Bootstrap − framvirkir", "Brúun − bootstrap framvirkir", "Framvirkir"], "range": ["circle", "M-5.2,0H5.2M0,-1V1", "circle", "M-5.2,0H5.2M0,-1V1", "M-5.2,0H5.2"]}, "legend": {"orient": "none", "legendX": 158.3, "legendY": 11.3, "direction": "vertical", "title": null}}}}
]
}
]
}],
"config": {
 "font": "Liberation Serif",
 "view": {"stroke": "#7a7a7a", "strokeWidth": 1.2},
 "title": {"font": "Liberation Serif", "fontWeight": "normal", "color": "black"},
 "axis": {"labelFont": "Liberation Serif", "labelFontSize": 16, "labelColor": "black", "titleFont": "Liberation Serif", "titleFontSize": 16, "titleFontWeight": "normal", "titleColor": "black", "domainColor": "black", "domainWidth": 1.5, "tickColor": "black", "tickWidth": 1, "grid": false},
 "legend": {"labelFont": "Liberation Serif", "labelFontSize": 15, "labelColor": "black", "labelLimit": 300, "padding": 0, "rowPadding": 3.8, "symbolSize": 60, "symbolStrokeWidth": 2.2, "symbolFillColor": "transparent", "symbolOffset": 15, "labelOffset": 23}
}
}
